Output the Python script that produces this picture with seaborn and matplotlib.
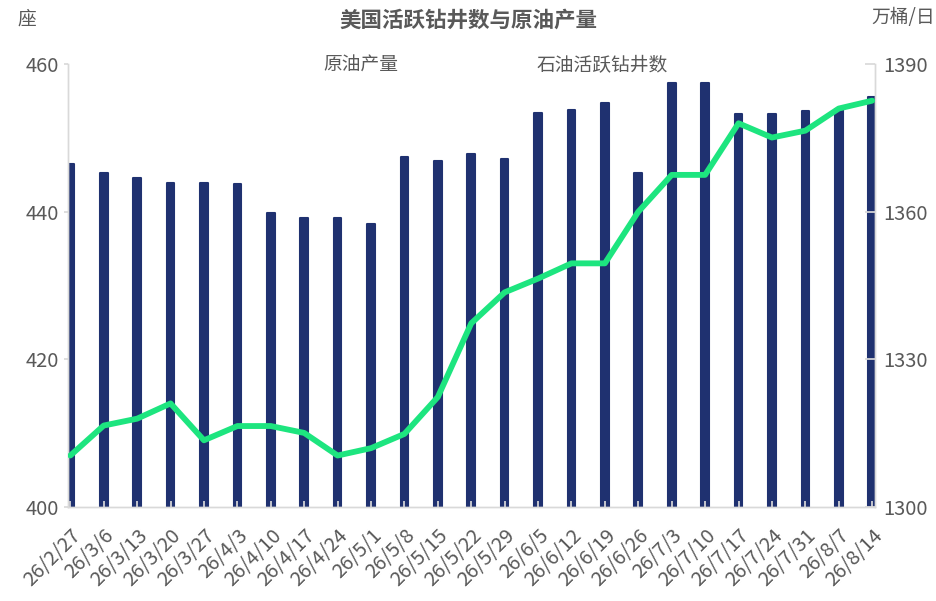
import matplotlib
matplotlib.use("Agg")
import matplotlib.pyplot as plt
import seaborn as sns
import pandas as pd
import numpy as np

dates = ["26/2/27", "26/3/6", "26/3/13", "26/3/20", "26/3/27", "26/4/3", "26/4/10",
         "26/4/17", "26/4/24", "26/5/1", "26/5/8", "26/5/15", "26/5/22", "26/5/29",
         "26/6/5", "26/6/12", "26/6/19", "26/6/26", "26/7/3", "26/7/10", "26/7/17",
         "26/7/24", "26/7/31", "26/8/7", "26/8/14"]
rigs = [446.5, 445.2, 444.6, 443.9, 443.9, 443.7, 439.8, 439.1, 439.1, 438.3,
        447.4, 446.9, 447.8, 447.2, 453.4, 453.8, 454.7, 445.2, 457.4, 457.4,
        453.3, 453.2, 453.7, 453.9, 455.5]
production = [1310.4, 1316.5, 1317.9, 1321.0, 1313.5, 1316.4, 1316.4, 1315.0, 1310.4,
              1311.9, 1314.8, 1322.3, 1337.3, 1343.6, 1346.4, 1349.5, 1349.5, 1360.0,
              1367.5, 1367.5, 1378.0, 1375.1, 1376.5, 1381.0, 1382.6]

df = pd.DataFrame({"date": dates, "rigs": rigs, "prod": production, "pos": np.arange(len(dates))})

sns.set_theme(style="white")
plt.rcParams["font.family"] = ["Noto Sans CJK SC", "DejaVu Sans"]
gray = "#595959"
spine_c = "#d9d9d9"
bar_c = "#1F3170"
line_c = "#1DE57F"

fig = plt.figure(figsize=(9.37, 6.01), dpi=100)
ax = fig.add_axes([0.0729, 0.157, 0.8604, 0.736])

sns.barplot(data=df, x="date", y="rigs", color=bar_c, width=0.23, ax=ax,
            saturation=1, zorder=2)
for p in ax.patches:
    p.set_edgecolor(bar_c)
    p.set_linewidth(1.5)
    p.set_joinstyle("round")
ax.set_ylim(400, 460)
ax.set_yticks([400, 420, 440, 460])
ax.set_xlim(-0.06, 24.07)

ax2 = ax.twinx()
sns.lineplot(data=df, x="pos", y="prod", color=line_c, linewidth=4.2, ax=ax2,
             zorder=3)
ax2.set_ylim(1300, 1390)
ax2.set_yticks([1300, 1330, 1360, 1390])
ax2.set_xlim(-0.06, 24.07)

for a in (ax, ax2):
    a.set_xlabel("")
    a.set_ylabel("")
    for s in a.spines.values():
        s.set_color(spine_c)
        s.set_linewidth(1.0)
    a.spines["top"].set_visible(False)

ax.set_axisbelow(False)
ax.tick_params(axis="y", colors=spine_c, labelcolor=gray, labelsize=14.5,
               length=3, direction="out", left=True, pad=4)
ax2.tick_params(axis="y", colors=spine_c, labelcolor=gray, labelsize=14.5,
                length=7, direction="in", right=True, pad=6)
ax.tick_params(axis="x", colors=spine_c, length=4, direction="in", bottom=True,
               labelcolor=gray, labelsize=14.5, pad=13)
ax.set_xticks(range(len(dates)))
ax.set_xticklabels(dates, rotation=45, ha="right", rotation_mode="anchor")
for lbl in ax.get_xticklabels() + ax.get_yticklabels() + ax2.get_yticklabels():
    lbl.set_fontweight("medium")

fig.text(0.5, 0.966, "美国活跃钻井数与原油产量", ha="center", va="center",
         fontsize=15.5, color=gray, fontweight="bold")
fig.text(0.029, 0.969, "座", ha="center", va="center", fontsize=13.5, color=gray,
         fontweight="medium")
fig.text(0.998, 0.971, "万桶/日", ha="right", va="center", fontsize=13.5, color=gray,
         fontweight="medium")
fig.text(0.385, 0.891, "原油产量", ha="center", va="center", fontsize=13.5, color=gray,
         fontweight="medium")
fig.text(0.643, 0.891, "石油活跃钻井数", ha="center", va="center", fontsize=13.5, color=gray,
         fontweight="medium")

fig.savefig("out.png", dpi=100)
